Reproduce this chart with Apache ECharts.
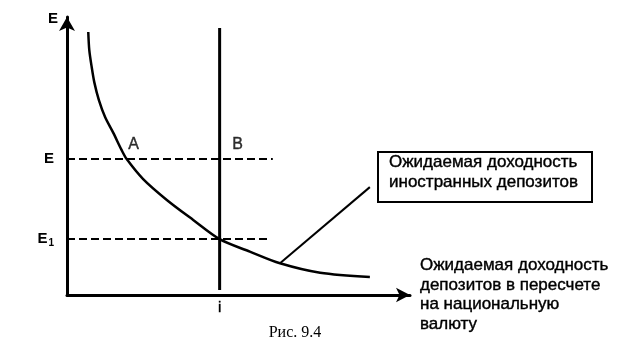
<!DOCTYPE html>
<html>
<head>
<meta charset="utf-8">
<script src="https://cdn.jsdelivr.net/npm/echarts@6/dist/echarts.min.js"></script>
<style>
html,body{margin:0;padding:0;background:#fff;}
#chart{width:629px;height:357px;}
</style>
</head>
<body>
<div id="chart"></div>
<script>
// ---- Data (abstract units: i on x axis 0..10, E on y axis 0..10) ----
const curveI = [0.62, 0.65, 0.72, 0.80, 0.93, 1.11, 1.35, 1.59, 1.74, 2.22, 2.91, 3.68, 4.45, 5.33, 6.21, 7.38, 8.83];
const curveE = [9.46, 8.81, 8.20, 7.63, 7.01, 6.40, 5.83, 5.22, 4.89, 4.17, 3.42, 2.70, 2.01, 1.56, 1.14, 0.80, 0.65];
const iLevel = 4.45;                 // domestic interest rate i
const iLineE = [0.18, 9.6];          // vertical line extent
const eLevel = 4.89;                 // E
const e1Level = 2.01;                // E1
const eDashEnd = 6.0;
const e1DashEnd = 5.9;
const pointA = [1.74, 4.89];
const pointB = [4.45, 4.89];
const leaderI = [6.21, 8.83];
const leaderE = [1.14, 3.88];
const yTickValues = [e1Level, eLevel];
const yTickLabels = ['E{sub|1}', 'E'];
const xTickValues = [iLevel];
const xTickLabels = ['i'];
const boxText = ['Ожидаемая доходность', 'иностранных депозитов'];
const xAxisName = ['Ожидаемая доходность', 'депозитов в пересчете', 'на национальную', 'валюту'];
const yAxisName = 'E';
const caption = 'Рис. 9.4';

const chart = echarts.init(document.getElementById('chart'), null, {renderer: 'canvas'});
const sans = 'Liberation Sans, Arial, sans-serif';
const serif = 'Liberation Serif, Times New Roman, serif';
const black = '#000';

const option = {
  animation: false,
  backgroundColor: '#fff',
  grid: {left: 67, right: 219, top: 17, bottom: 62, containLabel: false},
  xAxis: {
    type: 'value', min: 0, max: 10,
    splitLine: {show: false},
    axisTick: {show: false},
    axisLine: {show: true, onZero: false, symbol: ['none', 'arrow'], symbolSize: [11, 14],
      lineStyle: {color: black, width: 3}},
    axisLabel: {
      customValues: xTickValues, margin: 5, color: black, fontSize: 15, fontFamily: sans,
      textBorderColor: black, textBorderWidth: 0.4,
      formatter: function (v) { const k = xTickValues.indexOf(v); return k >= 0 ? xTickLabels[k] : ''; }
    },
    name: xAxisName.join('\n'), nameLocation: 'end', nameGap: 10,
    nameTextStyle: {color: black, fontSize: 17, lineHeight: 19.5, fontFamily: sans, align: 'left', verticalAlign: 'middle',
      textBorderColor: black, textBorderWidth: 0.4}
  },
  yAxis: {
    type: 'value', min: 0, max: 10,
    splitLine: {show: false},
    axisTick: {show: false},
    axisLine: {show: true, onZero: false, symbol: ['none', 'arrow'], symbolSize: [12, 14],
      lineStyle: {color: black, width: 3}},
    axisLabel: {
      customValues: yTickValues, margin: 13, color: black, fontSize: 15, fontWeight: 'bold', fontFamily: sans,
      formatter: function (v) { const k = yTickValues.indexOf(v); return k >= 0 ? yTickLabels[k] : ''; },
      rich: {sub: {fontSize: 10, fontWeight: 'bold', fontFamily: sans, color: black, verticalAlign: 'bottom', padding: [8, 0, 0, 1]}}
    },
    name: yAxisName, nameLocation: 'end', nameGap: -2,
    nameTextStyle: {color: black, fontSize: 15, fontWeight: 'bold', fontFamily: sans, align: 'right', verticalAlign: 'middle', padding: [0, 9, 0, 0]}
  },
  series: [
    {
      type: 'line', name: 'curve', smooth: 0.3, symbol: 'none',
      data: curveI.map((x, k) => [x, curveE[k]]),
      lineStyle: {color: black, width: 2.5}
    },
    {
      type: 'line', name: 'iLine', symbol: 'none',
      data: iLineE.map(e => [iLevel, e]),
      lineStyle: {color: black, width: 3}
    },
    {
      type: 'line', name: 'Edash', symbol: 'none',
      data: [[0, eLevel], [eDashEnd, eLevel]],
      lineStyle: {color: black, width: 2, type: [8, 4]}
    },
    {
      type: 'line', name: 'E1dash', symbol: 'none',
      data: [[0, e1Level], [e1DashEnd, e1Level]],
      lineStyle: {color: black, width: 2, type: [8, 4]}
    },
    {
      type: 'line', name: 'leader', symbol: 'none',
      data: leaderI.map((x, k) => [x, leaderE[k]]),
      lineStyle: {color: black, width: 2}
    },
    {
      type: 'scatter', name: 'points', symbolSize: 0,
      data: [
        {value: pointA, label: {formatter: 'A', offset: [7, -14]}},
        {value: pointB, label: {formatter: 'B', offset: [18, -14]}}
      ],
      label: {show: true, position: 'inside', color: black, fontSize: 16, fontFamily: sans,
        textBorderColor: black, textBorderWidth: 0.4}
    }
  ],
  graphic: [
    {type: 'rect', shape: {x: 378, y: 152, width: 214, height: 50},
      style: {fill: '#fff', stroke: black, lineWidth: 2}},
    {type: 'text', x: 389, y: 153,
      style: {text: boxText.join('\n'), fontSize: 17, fontFamily: sans, fill: black, lineHeight: 19.5,
        stroke: black, lineWidth: 0.4}},
    {type: 'text', x: 295, y: 333,
      style: {text: caption, fontSize: 16, fontFamily: serif, fill: black, align: 'center', verticalAlign: 'middle'}}
  ]
};
chart.setOption(option);
</script>
</body>
</html>
